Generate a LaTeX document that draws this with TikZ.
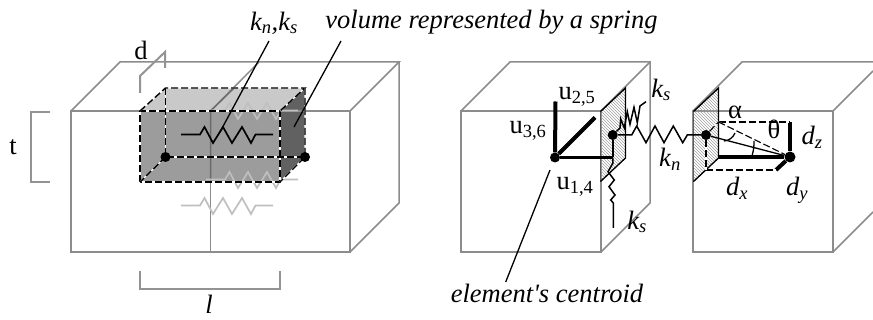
\documentclass[tikz,border=0pt]{standalone}
\usepackage{fontspec}
\setmainfont{Liberation Serif}
\usetikzlibrary{patterns}
\tikzset{
  cubeline/.style={gray!90!white, line width=1.5pt},
  bracket/.style={gray!85!white, line width=2pt},
  edgedash/.style={black, line width=1.4pt, dash pattern=on 7pt off 3pt, preaction={draw=white, solid, line width=1.2pt}},
  offsetdash/.style={edgedash, line width=1.1pt},
  thinblack/.style={black, line width=1.3pt},
  thickbar/.style={black, line width=4pt},
  spring/.style={black, line width=1.7pt},
  platehatch/.style={pattern=north west lines, pattern color=gray!75},
  lab/.style={font=\fontsize{26.5}{30}\selectfont, inner sep=0pt},
  italab/.style={font=\fontsize{26.5}{30}\selectfont\itshape, inner sep=0pt},
  pointdot/.style={circle, fill=black, inner sep=0pt, minimum size=#1}
}
\begin{document}
\begin{tikzpicture}[x=1pt, y=-1pt]
  \useasboundingbox (0,0) rectangle (873,320);
  % Volume faces
  \fill[gray!42] (140,111) -- (165.5,88) -- (305,88) -- (280,111) -- cycle;
  \fill[gray!78] (140,111) rectangle (280,182);
  \fill[black!62] (280,111) -- (305,88) -- (305,157) -- (280,182) -- cycle;
  % Left block
  \draw[cubeline] (71,111) rectangle (350,252);
  \draw[cubeline] (71,111) -- (120,62) -- (399,62) -- (350,111);
  \draw[cubeline] (399,62) -- (399,203) -- (350,252);
  \draw[cubeline] (210.5,111) -- (210.5,252);
  \draw[cubeline] (210.5,111) -- (259,62);
  \draw[cubeline, black!58] (210.5,182) -- (210.5,111) -- (234,88);
  % Springs, the black one last
  \foreach \sx/\sy/\scol in {0/71/gray!50, 25/45/gray!50, 25/-24/gray!50, 0/0/black} {
    \draw[spring, color=\scol, shift={(\sx,\sy)}] (181,134.5) -- (200,134.5) -- (204.5,127) -- (213,143) -- (223,127)
      -- (232,143) -- (242,127) -- (251,143) -- (255.5,134.5) -- (273,134.5);
  }
  % Volume edges
  \draw[edgedash] (140,182) rectangle (280,111);
  \draw[edgedash] (140,111) -- (165.5,88) -- (305,88) -- (280,111);
  \draw[edgedash] (305,88) -- (305,157) -- (280,182);
  \draw[edgedash] (165.5,88) -- (165.5,157) -- (305,157);
  \draw[edgedash] (165.5,157) -- (140,182);
  \node[pointdot=10pt] (dotback) at (165.5,157) {};
  \node[pointdot=10pt] (dotfront) at (305,157) {};
  % Brackets
  \draw[bracket] (140,93) -- (140,76) -- (165,52) -- (165,68);
  \draw[bracket] (50,112) -- (31,112) -- (31,182) -- (50,182);
  \draw[bracket] (140,271) -- (140,289) -- (280,289) -- (280,271);
  \node[lab] (dlabel) at (141,50) {d};
  \node[lab] (tlabel) at (13,147) {t};
  \node[italab] (llabel) at (209,304) {l};
  % Top labels and their leaders
  \node[italab] (kkabel) at (274,23) {k\textsubscript{n},k\textsubscript{s}};
  \node[italab] (vollabel) at (491.5,22) {volume represented by a spring};
  \coordinate (kkend) at (220,132);
  \coordinate (volend) at (294,127);
  \draw[thinblack] (269,41) -- (kkend);
  \draw[thinblack] (341,41) -- (volend);
  % Middle block
  \draw[cubeline] (461,111) rectangle (601,252);
  \draw[cubeline] (461,111) -- (510,62) -- (650,62) -- (650,203) -- (601,252);
  \draw[cubeline] (601,111) -- (650,62);
  \draw[platehatch] (600.5,111.5) -- (625.5,88) -- (625.5,158) -- (600.5,181.5) -- cycle;
  \draw[thinblack] (600.5,111.5) -- (625.5,88) -- (625.5,158) -- (600.5,181.5);
  % Right block, cut off by the page
  \draw[cubeline] (693,111) rectangle (833,252);
  \draw[cubeline] (693,111) -- (742,62) -- (873,62);
  \draw[cubeline] (833,111) -- (873,71);
  \draw[cubeline] (833,252) -- (873,212);
  \draw[platehatch] (693.5,111.5) -- (718.5,88) -- (718.5,158) -- (693.5,181.5) -- cycle;
  \draw[thinblack] (693.5,111.5) -- (718.5,88) -- (718.5,158) -- (693.5,181.5);
  % Centroid and displacements
  \node[pointdot=10pt] (centroid) at (555,157.5) {};
  \node[pointdot=10pt] (platedot) at (612.7,135) {};
  \node[pointdot=10pt] (seconddot) at (706,135) {};
  \node[pointdot=11pt] (enddot) at (790,157) {};
  \coordinate (uvert) at (555.5,101.5);
  \coordinate (udiag) at (595,117.5);
  \coordinate (platefoot) at (612.7,157.5);
  \draw[thickbar] (centroid) -- (uvert);
  \draw[thickbar] (centroid) -- (udiag);
  \draw[black, line width=3.2pt] (centroid) -- (platefoot);
  \draw[black, line width=2.2pt] (platefoot) -- (platedot);
  % Normal and shear springs
  \draw[spring, line width=1.5pt] (platedot) -- (631.7,135) -- (636.7,126) -- (646,142.7) -- (655,126) -- (664,142.7)
    -- (673.3,126) -- (682.7,142.7) -- (687.3,135) -- (seconddot);
  \draw[spring, line width=1.5pt] (platedot) -- (620,128) -- (620.7,119) -- (624.3,128) -- (627.3,111.7) -- (630,124.3)
    -- (634,107.3) -- (637.3,122.7) -- (640,106) -- (646,101.7);
  \draw[spring, line width=1.5pt] (platefoot) -- (613,163) -- (608,171.7) -- (614.3,180) -- (609,186.7) -- (615,195)
    -- (610.7,200) -- (613.3,203) -- (613.3,228);
  % Offset box at the right
  \coordinate (backtop) at (718.5,122);
  \coordinate (topend) at (790,122);
  \coordinate (botleft) at (706,170);
  \coordinate (botend) at (776,170);
  \coordinate (backfoot) at (718.5,157);
  \draw[thickbar] (enddot) -- (topend);
  \draw[thickbar] (enddot) -- (backfoot);
  \draw[thickbar] (enddot) -- (botend);
  \draw[offsetdash] (backtop) -- (topend);
  \draw[offsetdash] (botleft) -- (botend);
  \draw[offsetdash] (seconddot) -- (botleft);
  \draw[offsetdash] (seconddot) -- (backtop);
  \draw[offsetdash] (backtop) -- (enddot);
  \draw[thinblack] (seconddot) -- (enddot);
  \draw[thinblack] (backtop) -- (backfoot);
  \draw[thinblack] (735,133) to[bend left=30] (724,141);
  \draw[thinblack] (754,141) to[bend left=8] (752,156);
  % Labels of the middle and right blocks
  \node[lab] (ulabeltwo) at (577,97) {u\textsubscript{2,5}};
  \node[lab] (ulabelthree) at (528,131) {u\textsubscript{3,6}};
  \node[lab] (ulabelone) at (575,187) {u\textsubscript{1,4}};
  \node[italab] (ksupper) at (661,90) {k\textsubscript{s}};
  \node[italab] (kslower) at (637,222) {k\textsubscript{s}};
  \node[italab] (knlabel) at (670,159) {k\textsubscript{n}};
  \node[lab] (alphalabel) at (735,112) {α};
  \node[lab] (thetalabel) at (774,129) {θ};
  \node[italab] (dzlabel) at (812,137) {d\textsubscript{z}};
  \node[italab] (dxlabel) at (737,188) {d\textsubscript{x}};
  \node[italab] (dylabel) at (797,190) {d\textsubscript{y}};
  \node[italab] (centroidlabel) at (547,293) {element\textquotesingle s centroid};
  \draw[thinblack] (505.7,282) -- (550,170);
\end{tikzpicture}
\end{document}
